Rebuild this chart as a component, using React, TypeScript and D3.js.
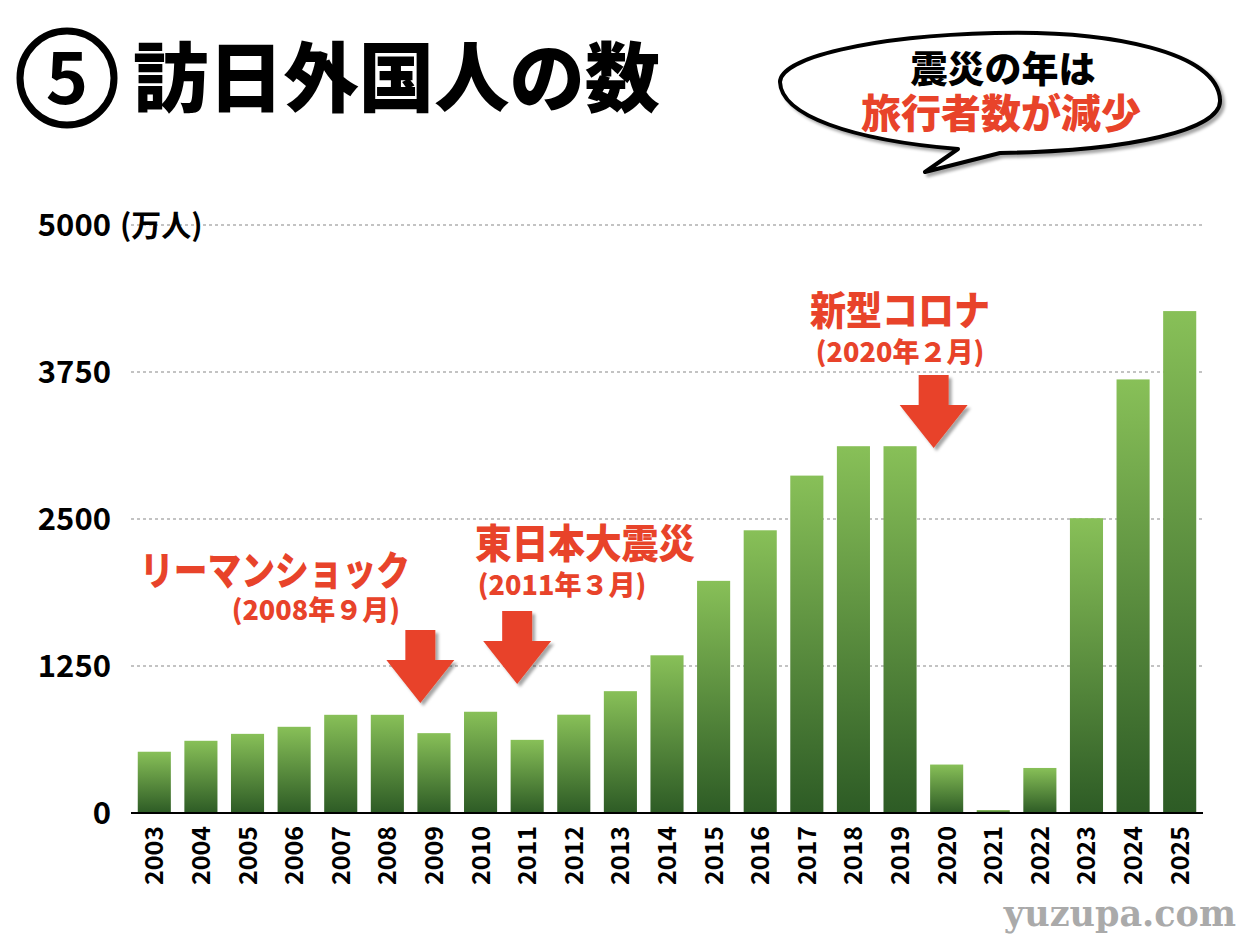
import React from 'react';
import * as d3 from 'd3';

// 訪日外国人数（万人）
const years = [
  '2003', '2004', '2005', '2006', '2007', '2008', '2009', '2010', '2011', '2012', '2013', '2014',
  '2015', '2016', '2017', '2018', '2019', '2020', '2021', '2022', '2023', '2024', '2025',
];
const visitors = [
  521, 614, 673, 733, 835, 835, 679, 861, 622, 836, 1036, 1341,
  1974, 2404, 2869, 3119, 3119, 412, 25, 383, 2507, 3687, 4268,
];
const yTicks = [0, 1250, 2500, 3750, 5000];

const events = [
  { year: '2008', shift: 33, title: 'リーマンショック', date: '(2008年９月)' },
  { year: '2011', shift: -10, title: '東日本大震災', date: '(2011年３月)' },
  { year: '2020', shift: -13, title: '新型コロナ', date: '(2020年２月)' },
];

const RED = '#e8432a';
const JP = '"Noto Sans CJK JP", "Noto Sans", sans-serif';

const W = 1260;
const H = 945;

const arrowPath = (tx: number, ty: number) => {
  const sh = 15;
  const hh = 34;
  const headH = 43;
  const total = 73;
  return [
    [tx - sh, ty - total],
    [tx + sh, ty - total],
    [tx + sh, ty - headH],
    [tx + hh, ty - headH],
    [tx, ty],
    [tx - hh, ty - headH],
    [tx - sh, ty - headH],
  ].map((p, i) => `${i ? 'L' : 'M'}${p[0]},${p[1]}`).join('') + 'Z';
};

export default function App() {
  const x = d3.scaleBand<string>().domain(years).range([131, 1203]).paddingInner(0.29).paddingOuter(0.145);
  const y = d3.scaleLinear().domain([0, 5000]).range([813, 225]);
  const bw = x.bandwidth();
  const cx = (yr: string) => (x(yr) ?? 0) + bw / 2;

  // annotation layout
  const ann = [
    { tipY: 703, titleX: 140, titleLen: 270, titleY: 585, dateX: 400, dateY: 620, anchor: 'end' },
    { tipY: 684, titleX: 475, titleLen: 220, titleY: 558, dateX: 562, dateY: 595, anchor: 'middle' },
    { tipY: 448, titleX: 810, titleLen: 180, titleY: 325, dateX: 900, dateY: 362, anchor: 'middle' },
  ];

  return (
    <svg width={W} height={H} style={{ position: 'absolute', left: 0, top: 0, background: '#fff' }}>
      <defs>
        <linearGradient id="barGrad" x1="0" y1="0" x2="0" y2="1">
          <stop offset="0%" stopColor="#88c058" />
          <stop offset="100%" stopColor="#2d5b25" />
        </linearGradient>
        <filter id="shadow" x="-20%" y="-20%" width="150%" height="150%">
          <feDropShadow dx="3" dy="3" stdDeviation="1.5" floodColor="#000" floodOpacity="0.35" />
        </filter>
      </defs>

      {/* title */}
      <circle cx={67} cy={78} r={47} fill="none" stroke="#000" strokeWidth={7} />
      <text x={67} y={104} textAnchor="middle" fontFamily={JP} fontWeight={700} fontSize={72} fill="#000">5</text>
      <text x={133} y={106} fontFamily={JP} fontWeight={900} fontSize={76} fill="#000" textLength={527} lengthAdjust="spacingAndGlyphs">
        訪日外国人の数
      </text>

      {/* speech bubble */}
      <g filter="url(#shadow)">
        <path
          d="M1000,153 C1130,151 1222,130 1220,100 C1218,52 1110,30 995,33 C870,36 780,58 780,82 C781,115 850,140 958,149 L925,172 Z"
          fill="#fff"
          stroke="#000"
          strokeWidth={4}
          strokeLinejoin="round"
        />
      </g>
      <text x={1003} y={83} textAnchor="middle" fontFamily={JP} fontWeight={900} fontSize={37} fill="#000">震災の年は</text>
      <text x={1001} y={128} textAnchor="middle" fontFamily={JP} fontWeight={900} fontSize={40} fill={RED}>旅行者数が減少</text>

      {/* grid */}
      {yTicks.filter((t) => t > 0).map((t) => (
        <line key={t} x1={131} x2={1203} y1={y(t)} y2={y(t)} stroke="#888" strokeWidth={1.2} strokeDasharray="3,3" />
      ))}

      {/* y tick labels */}
      {yTicks.map((t) => (
        <text key={t} x={111} y={y(t) + 11} textAnchor="end" fontFamily={JP} fontWeight={700} fontSize={31} fill="#000">
          {t}
        </text>
      ))}
      <text x={120} y={y(5000) + 11} fontFamily={JP} fontWeight={700} fontSize={30} fill="#000">(万人)</text>

      {/* bars */}
      {years.map((yr, i) => (
        <rect key={yr} x={x(yr)} y={y(visitors[i])} width={bw} height={y(0) - y(visitors[i])} fill="url(#barGrad)" />
      ))}
      <line x1={131} x2={1203} y1={y(0)} y2={y(0)} stroke="#000" strokeWidth={2} />

      {/* x labels */}
      {years.map((yr) => (
        <text
          key={yr}
          transform={`translate(${cx(yr) + 9},${826}) rotate(-90)`}
          textAnchor="end"
          fontFamily={JP}
          fontWeight={700}
          fontSize={25}
          fill="#000"
        >
          {yr}
        </text>
      ))}

      {/* event annotations */}
      {events.map((e, i) => {
        const a = ann[i];
        const tx = cx(e.year) + e.shift;
        return (
          <g key={e.year}>
            <path d={arrowPath(tx, a.tipY)} fill={RED} filter="url(#shadow)" />
            <text x={a.titleX} y={a.titleY} fontFamily={JP} fontWeight={900} fontSize={40} fill={RED} textLength={a.titleLen} lengthAdjust="spacingAndGlyphs">
              {e.title}
            </text>
            <text x={a.dateX} y={a.dateY} textAnchor={a.anchor} fontFamily={JP} fontWeight={900} fontSize={27} fill={RED}>
              {e.date}
            </text>
          </g>
        );
      })}

      {/* watermark */}
      <text x={1236} y={926} textAnchor="end" fontFamily='"DejaVu Serif", serif' fontWeight={700} fontSize={35} fill="#aaa">
        yuzupa.com
      </text>
    </svg>
  );
}
